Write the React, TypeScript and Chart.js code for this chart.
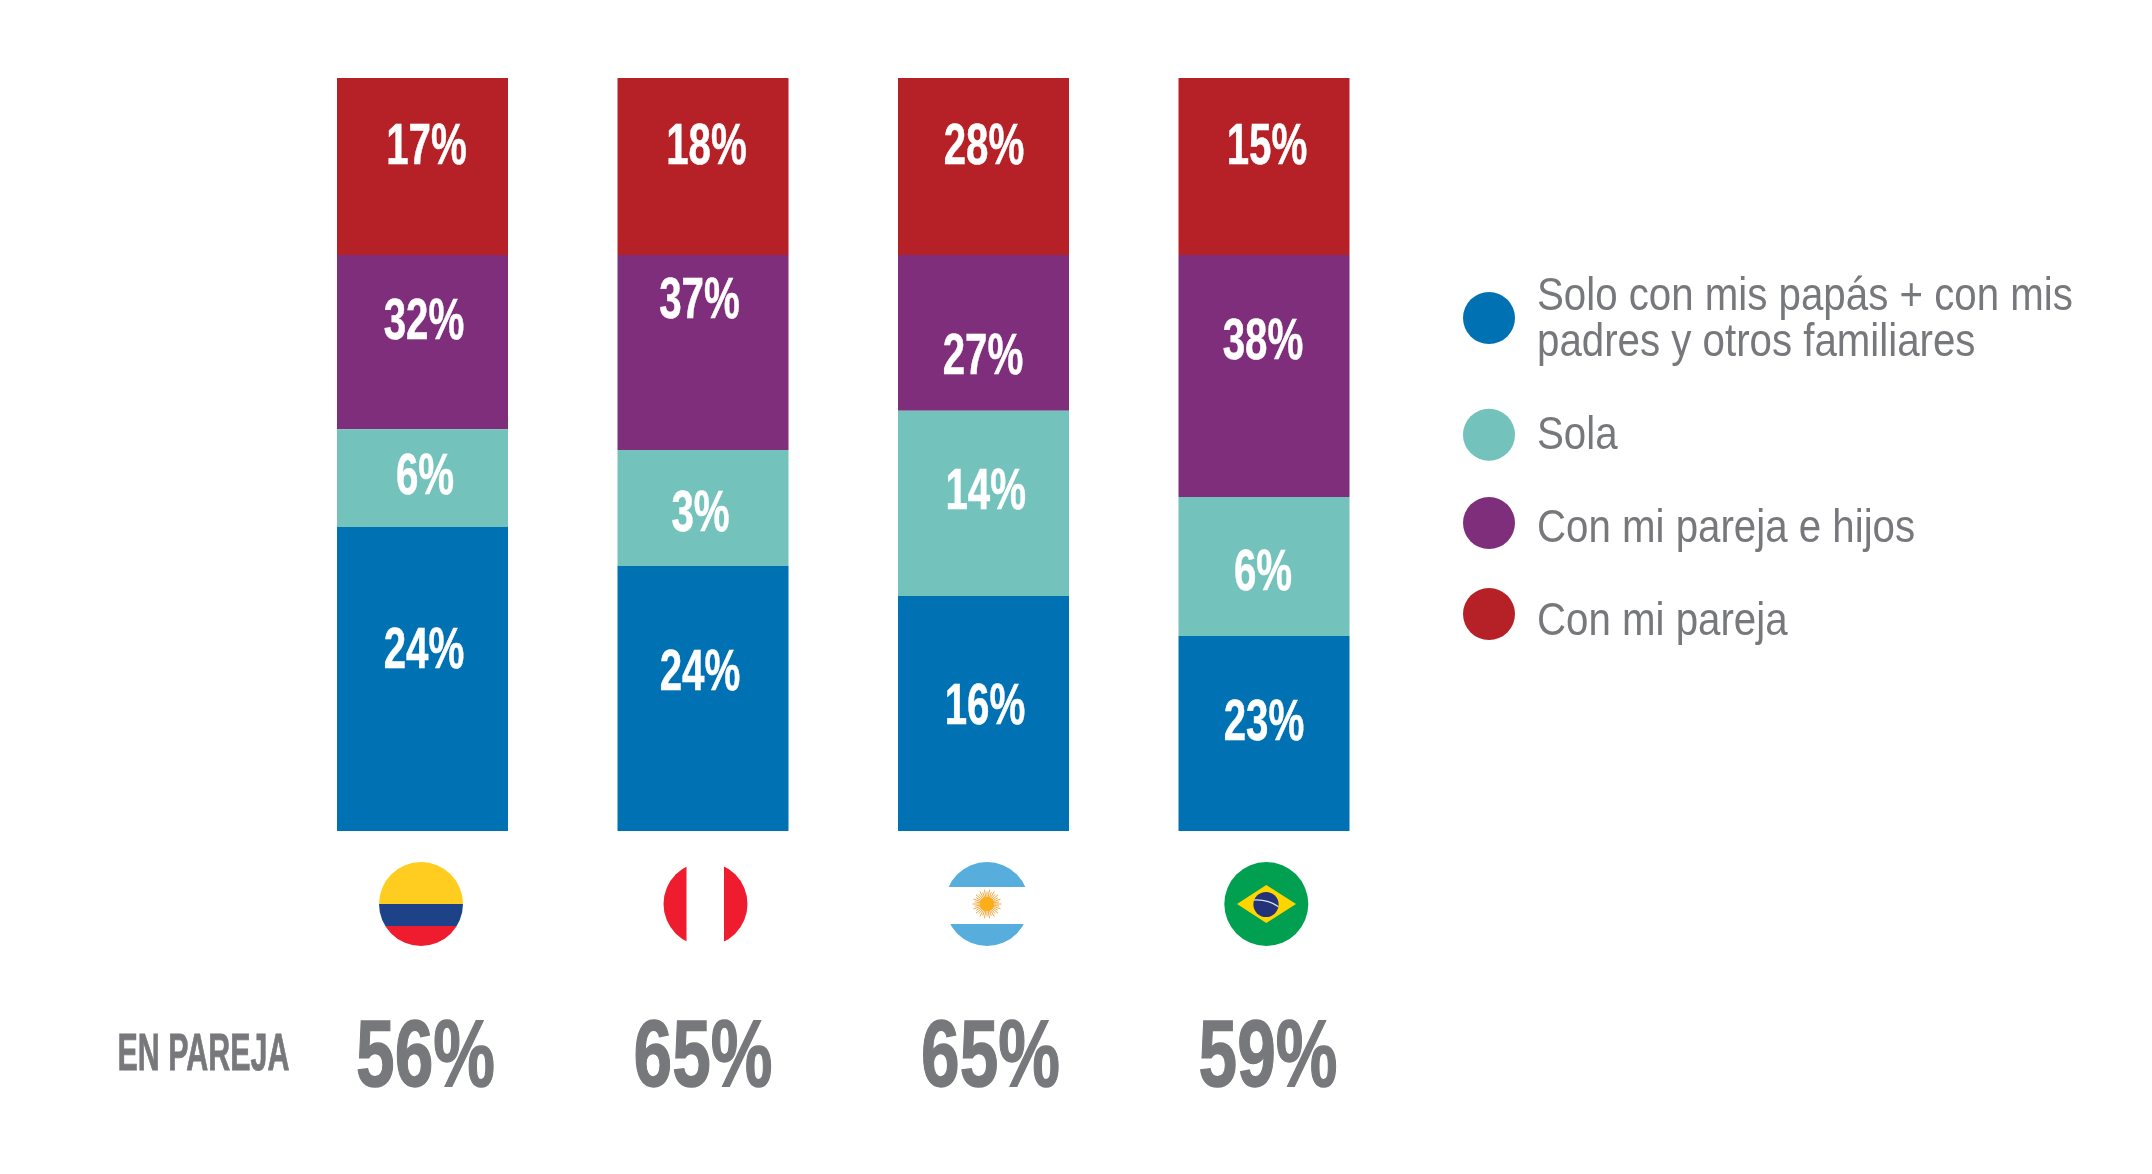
import React, { useEffect, useRef } from "react";
import { Chart, registerables } from "chart.js";

Chart.register(...registerables);

// ---- data ----
const countries = ["Colombia", "Perú", "Argentina", "Brasil"];
const legendLabels = [
  ["Solo con mis papás + con mis", "padres y otros familiares"],
  ["Sola"],
  ["Con mi pareja e hijos"],
  ["Con mi pareja"],
];
// Segment lengths as drawn in the source (they do not follow the printed numbers)
const padresHeights = [40.37, 35.19, 31.21, 25.9];
const solaHeights = [12.97, 15.41, 24.61, 18.46];
const parejaHijosHeights = [23.15, 25.9, 20.68, 32.14];
const parejaHeights = [23.51, 23.51, 23.51, 23.51];
// Printed numbers
const padresLabels = ["24%", "24%", "16%", "23%"];
const solaLabels = ["6%", "3%", "14%", "6%"];
const parejaHijosLabels = ["32%", "37%", "27%", "38%"];
const parejaLabels = ["17%", "18%", "28%", "15%"];
const enParejaLabels = ["56%", "65%", "65%", "59%"];
const enParejaTitle = "EN PAREJA";

// ---- styles and layout (not data) ----
const BLUE = "#0071B3";
const TEAL = "#73C2BB";
const PURPLE = "#7F2E7B";
const RED = "#B52126";
const GREY = "#77787B";
const FONT = '"Liberation Sans", sans-serif';

// Centre of each printed number, [x, y] by segment and country.
const labelCentres = {
  padres: [[424, 647], [700, 669], [985, 703], [1264, 719]],
  sola: [[425, 473], [700.5, 510], [985.7, 488], [1263, 569]],
  hijos: [[424, 318.5], [699.5, 297], [983, 353.5], [1263, 338]],
  pareja: [[426.5, 143], [706.5, 143], [984, 143], [1267, 143]],
};
const enParejaCentres = [425.5, 703, 990.5, 1268];
const legendCircleY = [318, 434.7, 523, 614];
const legendBaselines = [[310, 356], [449], [542], [635]];

function squeezed(ctx, text, x, y, size, weight, squeeze, color, align = "center", thicken = 0) {
  ctx.save();
  ctx.font = `${weight} ${size}px ${FONT}`;
  ctx.fillStyle = color;
  ctx.textBaseline = "alphabetic";
  ctx.textAlign = align;
  ctx.translate(x, y);
  ctx.scale(squeeze, 1);
  if (thicken > 0) {
    ctx.strokeStyle = color;
    ctx.lineWidth = thicken;
    ctx.lineJoin = "miter";
    ctx.strokeText(text, 0, 0);
  }
  ctx.fillText(text, 0, 0);
  ctx.restore();
}

function disc(ctx, cx, cy, r, paint) {
  ctx.save();
  ctx.beginPath();
  ctx.arc(cx, cy, r, 0, Math.PI * 2);
  ctx.clip();
  paint();
  ctx.restore();
}

function rect(ctx, color, x, y, w, h) {
  ctx.fillStyle = color;
  ctx.fillRect(x, y, w, h);
}

function drawFlags(ctx, cy, r) {
  // Colombia
  disc(ctx, 421, cy, r, () => {
    rect(ctx, "#FFCD1F", 379, cy - r, 84, r);
    rect(ctx, "#1D4288", 379, cy, 84, 22);
    rect(ctx, "#EE1C2E", 379, cy + 22, 84, 20);
  });
  // Peru
  disc(ctx, 705.5, cy, r, () => {
    rect(ctx, "#EE1C2E", 663, cy - r, 23.5, 2 * r);
    rect(ctx, "#EE1C2E", 724, cy - r, 24, 2 * r);
  });
  // Argentina
  disc(ctx, 987, cy, r, () => {
    rect(ctx, "#57ADDC", 945, cy - r, 84, 25);
    rect(ctx, "#57ADDC", 945, cy + 20, 84, 22);
  });
  ctx.strokeStyle = "#F2A63B";
  ctx.lineWidth = 1;
  for (let i = 0; i < 36; i++) {
    const a = (i / 36) * Math.PI * 2;
    const len = i % 2 ? 12.5 : 14.5;
    ctx.beginPath();
    ctx.moveTo(987, cy);
    ctx.lineTo(987 + Math.cos(a) * len, cy + Math.sin(a) * len);
    ctx.stroke();
  }
  ctx.fillStyle = "#FBAE17";
  ctx.beginPath();
  ctx.arc(987, cy, 7, 0, Math.PI * 2);
  ctx.fill();
  // Brazil
  disc(ctx, 1266.3, cy, r, () => {
    rect(ctx, "#00A050", 1224, cy - r, 85, 2 * r);
    ctx.fillStyle = "#FFD500";
    ctx.beginPath();
    ctx.moveTo(1237, cy);
    ctx.lineTo(1266.3, cy - 19);
    ctx.lineTo(1296, cy);
    ctx.lineTo(1266.3, cy + 19);
    ctx.closePath();
    ctx.fill();
    disc(ctx, 1266, cy + 0.5, 12.6, () => {
      rect(ctx, "#24327A", 1250, cy - 14, 32, 30);
      ctx.strokeStyle = "#DDE6F0";
      ctx.lineWidth = 1.4;
      ctx.beginPath();
      ctx.moveTo(1253, cy - 4);
      ctx.quadraticCurveTo(1268, cy - 5, 1279, cy + 3);
      ctx.stroke();
    });
  });
}

const decorations = {
  id: "decorations",
  afterDatasetsDraw(chart) {
    const { ctx } = chart;
    // printed numbers in the bars
    const groups = [
      [padresLabels, labelCentres.padres],
      [solaLabels, labelCentres.sola],
      [parejaHijosLabels, labelCentres.hijos],
      [parejaLabels, labelCentres.pareja],
    ];
    groups.forEach(([texts, centres]) => {
      texts.forEach((t, i) => {
        squeezed(ctx, t, centres[i][0], centres[i][1] + 20.5, 57.5, "bold", 0.7, "#FFFFFF", "center", 0.5);
      });
    });

    drawFlags(ctx, 904, 42);

    // "EN PAREJA" row
    squeezed(ctx, enParejaTitle, 203.5, 1069.5, 52, "bold", 0.585, GREY, "center", 0.8);
    enParejaLabels.forEach((t, i) => {
      squeezed(ctx, t, enParejaCentres[i], 1086, 95, "bold", 0.73, GREY, "center", 1.4);
    });

    // legend
    chart.data.datasets.forEach((ds, i) => {
      ctx.fillStyle = ds.backgroundColor;
      ctx.beginPath();
      ctx.arc(1489, legendCircleY[i], 26, 0, Math.PI * 2);
      ctx.fill();
      legendLabels[i].forEach((line, k) => {
        squeezed(ctx, line, 1537, legendBaselines[i][k], 46, "normal", 0.875, GREY, "left");
      });
    });
  },
};

export default function App() {
  const ref = useRef(null);
  useEffect(() => {
    const chart = new Chart(ref.current, {
      type: "bar",
      data: {
        labels: countries,
        datasets: [
          { label: legendLabels[0].join(" "), data: padresHeights, backgroundColor: BLUE },
          { label: legendLabels[1][0], data: solaHeights, backgroundColor: TEAL },
          { label: legendLabels[2][0], data: parejaHijosHeights, backgroundColor: PURPLE },
          { label: legendLabels[3][0], data: parejaHeights, backgroundColor: RED },
        ],
      },
      options: {
        responsive: false,
        animation: false,
        devicePixelRatio: 1,
        layout: { padding: { left: 282.25, right: 747.75, top: 78, bottom: 343 } },
        plugins: { legend: { display: false }, tooltip: { enabled: false }, title: { display: false } },
        datasets: { bar: { categoryPercentage: 1, barPercentage: 171 / 280.5, borderWidth: 0 } },
        scales: {
          x: { stacked: true, display: false },
          y: { stacked: true, display: false, min: 0, max: 100 },
        },
      },
      plugins: [decorations],
    });
    return () => chart.destroy();
  }, []);
  return (
    <canvas
      ref={ref}
      width={2152}
      height={1174}
      style={{ position: "absolute", left: 0, top: 0, width: 2152, height: 1174, background: "#fff" }}
    />
  );
}
